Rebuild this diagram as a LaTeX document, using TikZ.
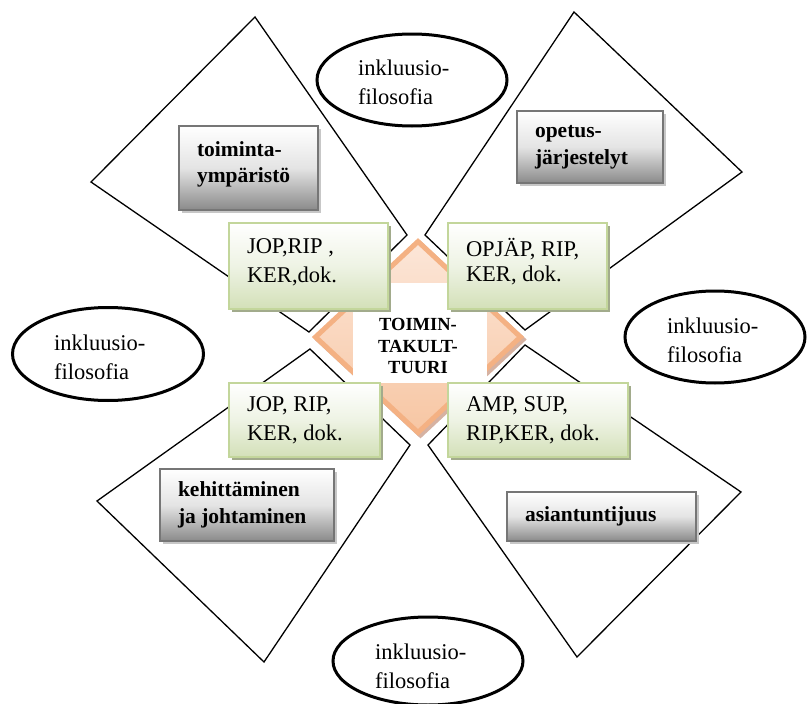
\documentclass[tikz,border=0pt]{standalone}
\usepackage{fontspec}
\setmainfont{Liberation Serif}
\usepackage{xcolor}
\usepackage{tikz}
\usetikzlibrary{shapes.geometric, shadows, positioning}

\definecolor{culborder}{HTML}{F4B183}
\definecolor{culfill}{HTML}{F7C6A3}
\definecolor{culpale}{HTML}{FCE6D8}
\definecolor{culshadow}{HTML}{D6B2A2}
\definecolor{areaborder}{HTML}{767676}
\definecolor{areamid}{HTML}{E4E4E4}
\definecolor{areabottom}{HTML}{8A8A8A}
\definecolor{docborder}{HTML}{C3D69B}
\definecolor{docmid}{HTML}{EEF3E4}
\definecolor{docbottom}{HTML}{D3E0B8}
\definecolor{docshadow}{HTML}{A2AB8C}

\begin{document}
\begin{tikzpicture}[
    x=1pt, y=-1pt,
    field/.style={draw=black, line width=1.3pt, fill=white, line join=miter},
    philo/.style={ellipse, draw=black, line width=3pt, fill=white},
    philotext/.style={anchor=west, align=flush left, inner sep=0pt, font=\fontsize{22.5}{29}\selectfont},
    area/.style={rectangle, draw=areaborder, line width=1.5pt, top color=white, bottom color=areabottom, middle color=areamid, align=flush left, inner xsep=18pt, font=\bfseries\fontsize{21.5}{27}\selectfont, general shadow={shadow xshift=3pt, shadow yshift=-3pt, fill=black!22}},
    doc/.style={rectangle, draw=docborder, line width=1.8pt, top color=white, bottom color=docbottom, middle color=docmid, align=flush left, inner xsep=18pt, font=\fontsize{22.5}{29}\selectfont, general shadow={shadow xshift=3pt, shadow yshift=-3pt, fill=docshadow}},
    culture/.style={diamond, draw=culborder, line width=5pt, top color=culpale, bottom color=culfill, minimum width=207, minimum height=193, inner sep=0pt}
]
    \useasboundingbox (0,0) rectangle (807,704);

    % Fields
    \draw [field] (255,17) -- (407,235) -- (309,332) -- (91,182) -- cycle;
    \draw [field] (574,12) -- (742,172) -- (525,330) -- (425,235) -- cycle;
    \draw [field] (310,349) -- (410,445) -- (264,662) -- (97,501) -- cycle;
    \draw [field] (525,345) -- (741,492) -- (577,657) -- (428,445) -- cycle;

    % Centre
    \node (culshade) [culture, draw=culshadow, top color=culshadow, bottom color=culshadow] at (420.5,339.5) {};
    \node (cul) [culture] at (418,337) {};
    \node (culbox) [rectangle, fill=white, minimum width=134, minimum height=100] at (420,333) {};
    \node (culname) [align=center, font=\bfseries\fontsize{18.5}{21.5}\selectfont] at (418,346) {TOIMIN-\\TAKULT-\\TUURI};

    % Documents
    \node (docTL) [doc, text width=123, minimum height=86, text depth=40pt] at (308.5,266) {JOP,RIP ,\\KER,dok.};
    \node (docTR) [doc, text width=123, minimum height=86, text depth=38pt, font=\fontsize{22.5}{25}\selectfont] at (527.5,266) {OPJÄP, RIP,\\KER, dok.};
    \node (docBL) [doc, text width=115, minimum height=74] at (304.5,420) {JOP, RIP,\\KER, dok.};
    \node (docBR) [doc, text width=144, minimum height=74] at (538,420) {AMP, SUP,\\RIP,KER, dok.};

    % Areas
    \node (env) [area, text width=103, minimum height=84, text depth=37pt, font=\bfseries\fontsize{21.5}{26}\selectfont] at (248.5,168) {toiminta-\\ympäristö};
    \node (teach) [area, text width=110, minimum height=72] at (590,147) {opetus-\\järjestelyt};
    \node (lead) [area, text width=138, minimum height=72] at (247,505) {kehittäminen\\ja johtaminen};
    \node (expert) [area, text width=153, minimum height=49] at (601.5,516.5) {asiantuntijuus};

    % Philosophy
    \node (incT) [philo, minimum width=190, minimum height=92] at (412,80) {};
    \node (incL) [philo, minimum width=191, minimum height=93] at (108,354) {};
    \node (incR) [philo, minimum width=180, minimum height=92] at (715,337) {};
    \node (incB) [philo, minimum width=190, minimum height=88] at (428,661) {};
    \node (incTtext) [philotext] at (358,82) {inkluusio-\\filosofia};
    \node (incLtext) [philotext] at (54,357) {inkluusio-\\filosofia};
    \node (incRtext) [philotext] at (667,340) {inkluusio-\\filosofia};
    \node (incBtext) [philotext] at (375,666) {inkluusio-\\filosofia};

\end{tikzpicture}
\end{document}
